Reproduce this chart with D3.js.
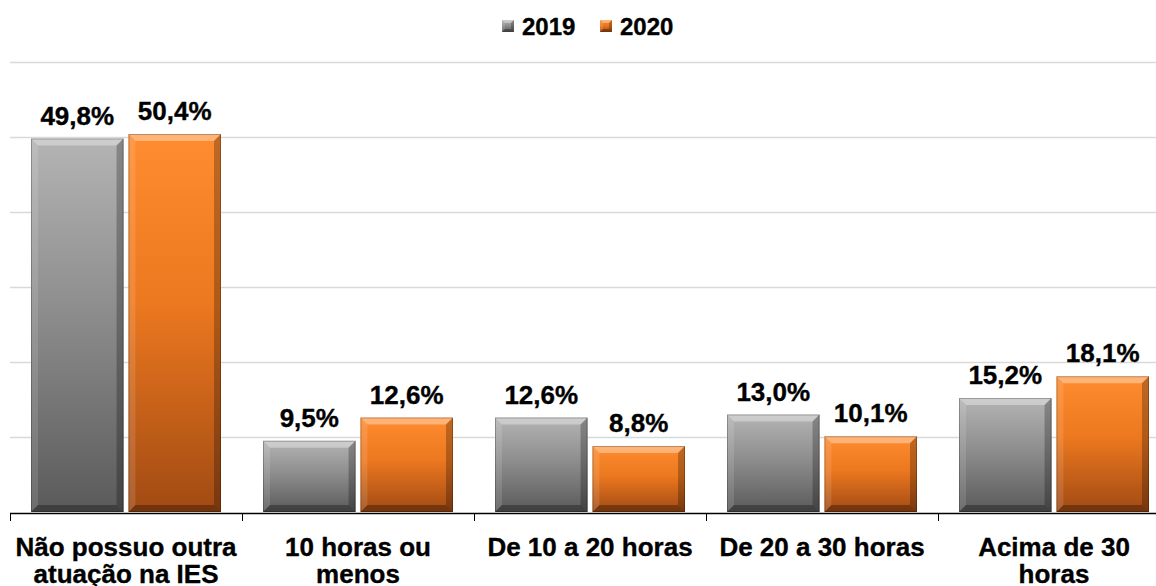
<!DOCTYPE html>
<meta charset="utf-8">
<script src="https://d3js.org/d3.v7.min.js"></script>
<style>
  body { margin: 0; background: #fff; }
  text { font-family: "Liberation Sans", Arial, sans-serif; font-weight: bold; fill: #000; stroke: #000; stroke-width: 0.35px; }
</style>
<div id="chart"></div>
<script>
// data
var categories = [["Não possuo outra", "atuação na IES"], ["10 horas ou", "menos"], ["De 10 a 20 horas"], ["De 20 a 30 horas"], ["Acima de 30", "horas"]];
var seriesNames = ["2019", "2020"];
var values2019 = [49.8, 9.5, 12.6, 13.0, 15.2];
var values2020 = [50.4, 12.6, 8.8, 10.1, 18.1];
var yTicks = [0, 10, 20, 30, 40, 50, 60];

var W = 1156, H = 586;
var svg = d3.select("#chart").append("svg").attr("width", W).attr("height", H);

var defs = svg.append("defs");
var colors = {
  "2019": ["#b4b4b4", "#8e8e8e", "#5a5a5a"],
  "2020": ["#ff8c30", "#ec781f", "#a14a14"]
};
seriesNames.forEach(function (s) {
  var g = defs.append("linearGradient").attr("id", "g" + s).attr("x1", 0).attr("y1", 0).attr("x2", 0).attr("y2", 1);
  g.append("stop").attr("offset", "0%").attr("stop-color", colors[s][0]);
  g.append("stop").attr("offset", "45%").attr("stop-color", colors[s][1]);
  g.append("stop").attr("offset", "100%").attr("stop-color", colors[s][2]);
});

var catIdx = categories.map(function (d, i) { return i; });
var x = d3.scaleBand().domain(catIdx).range([10, 10 + 5 * 232]);
var xs = d3.scaleBand().domain(seriesNames).range([21, 211]).paddingInner(0.05);
var y = d3.scaleLinear().domain([0, 60]).range([512, 62]);

// gridlines
svg.append("g").selectAll("line").data(yTicks.slice(1)).enter().append("line")
  .attr("x1", 10).attr("x2", W)
  .attr("y1", function (d) { return Math.round(y(d)) + 0.5; })
  .attr("y2", function (d) { return Math.round(y(d)) + 0.5; })
  .attr("stroke", "#d9d9d9").attr("stroke-width", 1.5);

var data = [];
catIdx.forEach(function (i) {
  data.push({ c: i, s: "2019", v: values2019[i] });
  data.push({ c: i, s: "2020", v: values2020[i] });
});

function bevelBar(g, x0, y0, w, h, b) {
  var x1 = x0 + w, y1 = y0 + h;
  g.append("path").attr("d", "M" + x0 + "," + y0 + "L" + x1 + "," + y0 + "L" + (x1 - b) + "," + (y0 + b) + "L" + (x0 + b) + "," + (y0 + b) + "Z")
    .attr("fill", "#fff").attr("opacity", 0.35);
  g.append("path").attr("d", "M" + x0 + "," + y0 + "L" + (x0 + b) + "," + (y0 + b) + "L" + (x0 + b) + "," + (y1 - b) + "L" + x0 + "," + y1 + "Z")
    .attr("fill", "#fff").attr("opacity", 0.12);
  g.append("path").attr("d", "M" + x1 + "," + y0 + "L" + (x1 - b) + "," + (y0 + b) + "L" + (x1 - b) + "," + (y1 - b) + "L" + x1 + "," + y1 + "Z")
    .attr("fill", "#000").attr("opacity", 0.25);
  g.append("path").attr("d", "M" + x0 + "," + y1 + "L" + (x0 + b) + "," + (y1 - b) + "L" + (x1 - b) + "," + (y1 - b) + "L" + x1 + "," + y1 + "Z")
    .attr("fill", "#000").attr("opacity", 0.3);
}

var bars = svg.append("g");
data.forEach(function (d) {
  var bx = x(d.c) + xs(d.s), by = y(d.v), bw = xs.bandwidth(), bh = y(0) - y(d.v);
  var g = bars.append("g");
  g.append("rect").attr("x", bx).attr("y", by).attr("width", bw).attr("height", bh)
    .attr("fill", "url(#g" + d.s + ")");
  bevelBar(g, bx, by, bw, bh, 7);
  g.append("rect").attr("x", bx + 0.5).attr("y", by + 0.5).attr("width", bw - 1).attr("height", bh - 1)
    .attr("fill", "none").attr("stroke", "#000").attr("stroke-opacity", 0.25);
  bars.append("text").attr("x", bx + bw / 2).attr("y", by - 14)
    .attr("text-anchor", "middle").style("font-size", "26px")
    .text(d.v.toFixed(1).replace(".", ",") + "%");
});

// x axis
var ax = svg.append("g");
ax.append("line").attr("x1", 10).attr("x2", W).attr("y1", 513.5).attr("y2", 513.5).attr("stroke", "#000").attr("stroke-width", 1.5);
catIdx.forEach(function (i) {
  ax.append("line").attr("x1", x(i) + 0.5).attr("x2", x(i) + 0.5).attr("y1", 513).attr("y2", 521).attr("stroke", "#000");
  var t = ax.append("text").attr("text-anchor", "middle").style("font-size", "26px");
  categories[i].forEach(function (ln, k) {
    t.append("tspan").attr("x", x(i) + x.bandwidth() / 2).attr("y", 556 + k * 27).text(ln);
  });
});

// legend
var leg = svg.append("g");
var legX = [502, 600];
seriesNames.forEach(function (s, k) {
  var lg = leg.append("g");
  lg.append("rect").attr("x", legX[k]).attr("y", 20).attr("width", 12).attr("height", 12).attr("fill", "url(#g" + s + ")");
  bevelBar(lg, legX[k], 20, 12, 12, 3);
  lg.append("text").attr("x", legX[k] + 20).attr("y", 35).style("font-size", "24px").text(s);
});
</script>
